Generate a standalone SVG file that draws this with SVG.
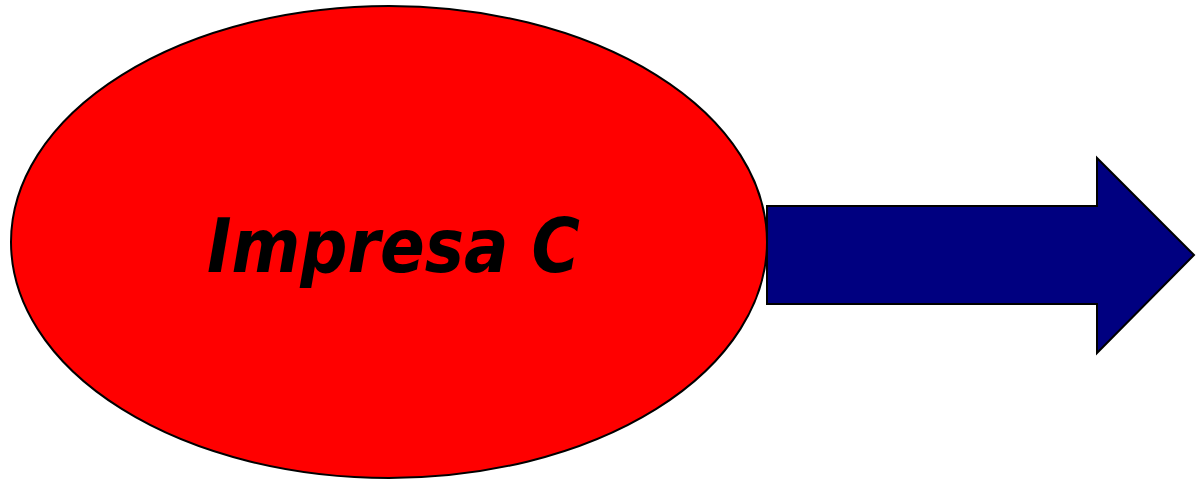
<svg xmlns="http://www.w3.org/2000/svg" width="1196" height="483" viewBox="0 0 1196 483">
<style>
.shape{stroke:#000;stroke-width:2}
.lbl{font-family:"Comic Sans MS","DejaVu Sans",sans-serif;font-weight:bold;font-style:italic;font-size:74px;fill:#000}
</style>
<rect width="1196" height="483" fill="#fff"/>
<g id="connectors">
<polygon id="arrow" class="shape" fill="#000080" points="767,206 1097,206 1097,158 1194,255 1097,353 1097,304 767,304"/>
</g>
<g id="impresa-c">
<ellipse class="shape" fill="#ff0000" cx="389" cy="242" rx="378" ry="236"/>
<text class="lbl" x="207" y="272" textLength="373" lengthAdjust="spacingAndGlyphs">Impresa C</text>
</g>
</svg>
